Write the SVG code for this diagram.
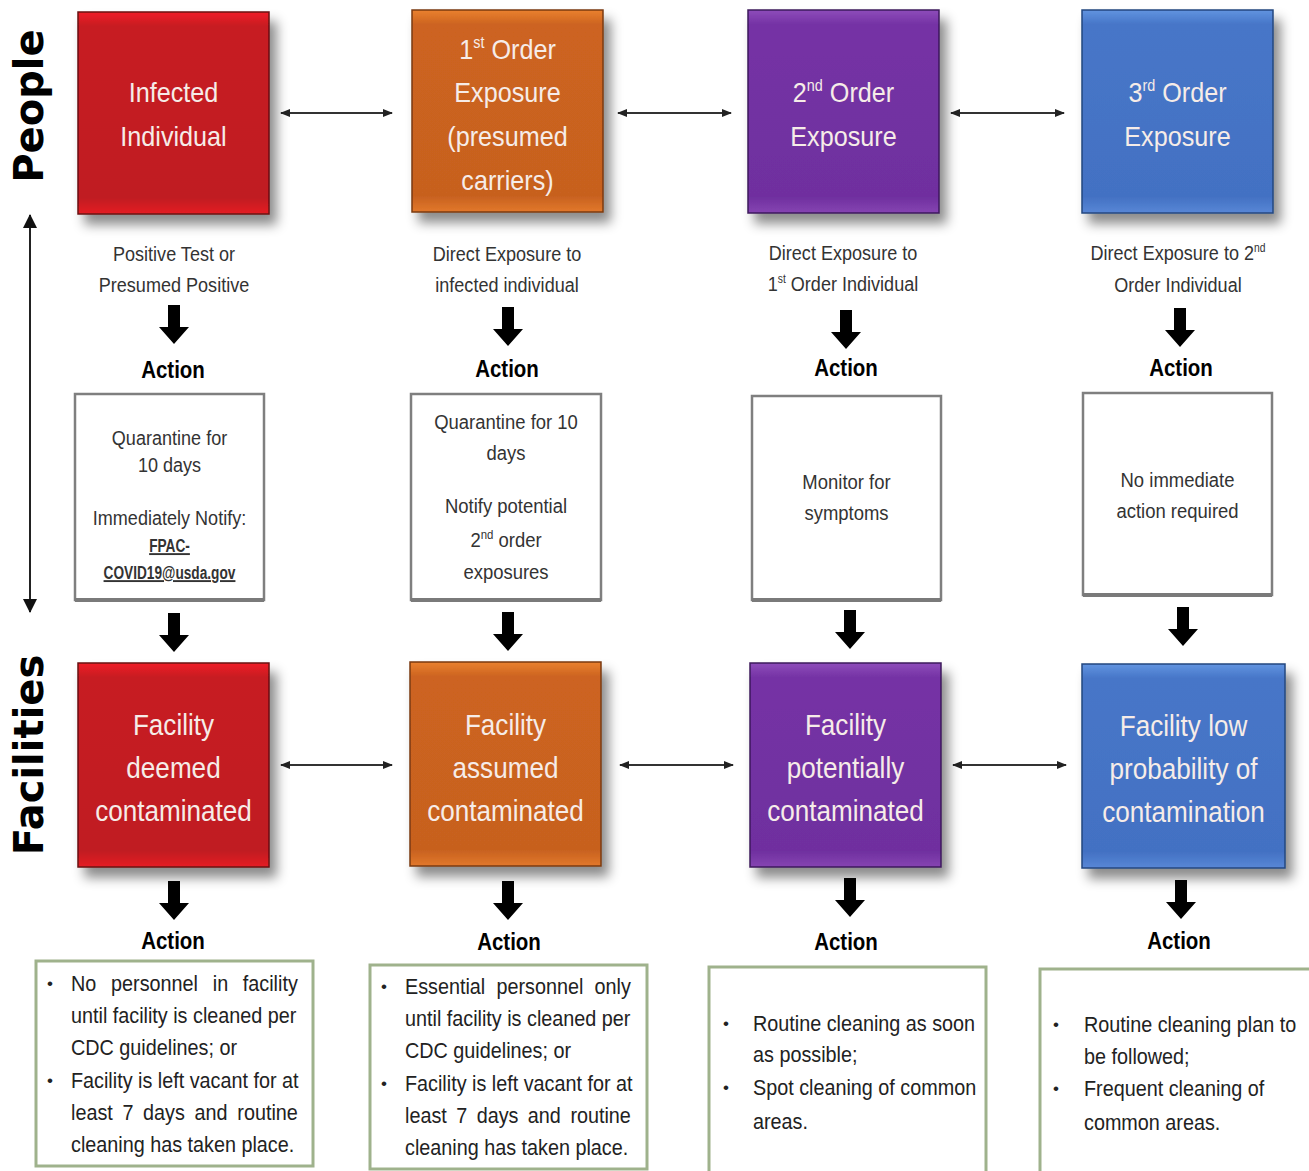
<svg xmlns="http://www.w3.org/2000/svg" width="1309" height="1171" viewBox="0 0 1309 1171">
<style>
text{font-family:"Liberation Sans",Arial,sans-serif}
.ct{font-size:28px;fill:#f6ece8;text-anchor:middle}
.cb{font-size:30px;fill:#f6ece8;text-anchor:middle}
.lbl{font-size:21px;fill:#333;text-anchor:middle}
.act{font-size:23px;font-weight:bold;fill:#000;text-anchor:middle}
.abx{font-size:21px;fill:#333;text-anchor:middle}
.em{font-size:19px;font-weight:bold;fill:#333;text-anchor:middle;text-decoration:underline}
.bul{font-size:22px;fill:#222}
.end{text-anchor:end}
.dot{font-size:17px;fill:#222;text-anchor:middle}
.side{font-family:"DejaVu Sans",sans-serif;font-weight:bold;font-size:40px;fill:#000;text-anchor:middle}
.abox{fill:#fff;stroke:#7f7f7f;stroke-width:2.5}
.abot{stroke:#7a7a7a;stroke-width:4}
.gbox{fill:#fff;stroke:#9fb28c;stroke-width:3}
.conn{stroke:#333;stroke-width:2;fill:none;marker-start:url(#ah);marker-end:url(#ah)}
.vconn{stroke:#222;stroke-width:2;fill:none;marker-start:url(#ahb);marker-end:url(#ahb)}
.darr{fill:#000}
</style>
<defs>
<filter id="sh" x="-20%" y="-20%" width="150%" height="150%">
<feDropShadow dx="7" dy="10" stdDeviation="6" flood-color="#000" flood-opacity="0.45"/>
</filter>
<linearGradient id="gRed" x1="0" y1="0" x2="0" y2="1">
<stop offset="0" stop-color="#f01e26"/><stop offset="0.07" stop-color="#c71b23"/><stop offset="0.92" stop-color="#c01a21"/><stop offset="1" stop-color="#e51d25"/>
</linearGradient>
<linearGradient id="gOrange" x1="0" y1="0" x2="0" y2="1">
<stop offset="0" stop-color="#ea812f"/><stop offset="0.07" stop-color="#cd6420"/><stop offset="0.92" stop-color="#c7611f"/><stop offset="1" stop-color="#e2782b"/>
</linearGradient>
<linearGradient id="gPurple" x1="0" y1="0" x2="0" y2="1">
<stop offset="0" stop-color="#8e4cba"/><stop offset="0.07" stop-color="#7533a5"/><stop offset="0.92" stop-color="#6f2f9f"/><stop offset="1" stop-color="#8645b2"/>
</linearGradient>
<linearGradient id="gBlue" x1="0" y1="0" x2="0" y2="1">
<stop offset="0" stop-color="#6194e0"/><stop offset="0.07" stop-color="#4776c8"/><stop offset="0.92" stop-color="#4371c3"/><stop offset="1" stop-color="#5887d6"/>
</linearGradient>
<marker id="ah" viewBox="0 0 10 8" refX="9" refY="4" markerWidth="10" markerHeight="8" markerUnits="userSpaceOnUse" orient="auto-start-reverse">
<path d="M0,0 L10,4 L0,8 Z" fill="#222"/>
</marker>
<marker id="ahb" viewBox="0 0 14 14" refX="13" refY="7" markerWidth="15" markerHeight="14" markerUnits="userSpaceOnUse" orient="auto-start-reverse">
<path d="M0,0 L14,7 L0,14 Z" fill="#111"/>
</marker>
<path id="darr" d="M-6,0 H6 V22 H15 L0,39 L-15,22 H-6 Z"/>
</defs>
<rect width="1309" height="1171" fill="#fff"/>

<!-- side labels -->
<g id="side-people"><text class="side" transform="translate(43 106) rotate(-90)">People</text></g>
<g id="side-facilities"><text class="side" transform="translate(43 755) rotate(-90)">Facilities</text></g>

<!-- connectors -->
<g id="connectors">
<line class="vconn" x1="30" y1="215" x2="30" y2="612"/>
<line class="conn" x1="281" y1="113" x2="392" y2="113"/>
<line class="conn" x1="618" y1="113" x2="731" y2="113"/>
<line class="conn" x1="951" y1="113" x2="1064" y2="113"/>
<line class="conn" x1="281" y1="765" x2="392" y2="765"/>
<line class="conn" x1="620" y1="765" x2="733" y2="765"/>
<line class="conn" x1="953" y1="765" x2="1066" y2="765"/>
<g class="darr">
<use href="#darr" x="174" y="305"/>
<use href="#darr" x="508" y="307"/>
<use href="#darr" x="846" y="310"/>
<use href="#darr" x="1180" y="308"/>
<use href="#darr" x="174" y="613"/>
<use href="#darr" x="508" y="612"/>
<use href="#darr" x="850" y="610"/>
<use href="#darr" x="1183" y="607"/>
<use href="#darr" x="174" y="881"/>
<use href="#darr" x="508" y="881"/>
<use href="#darr" x="850" y="878"/>
<use href="#darr" x="1181" y="880"/>
</g>
</g>

<!-- top row -->
<g id="infected-individual">
<rect x="78" y="12" width="191" height="202" fill="url(#gRed)" stroke="#6a0f13" stroke-width="1.5" filter="url(#sh)"/>
<text class="ct" transform="translate(173.5 0) scale(.9 1)"><tspan x="0" y="102">Infected</tspan><tspan x="0" y="146">Individual</tspan></text>
</g>
<g id="first-order-exposure">
<rect x="412" y="10" width="191" height="202" fill="url(#gOrange)" stroke="#7a3a10" stroke-width="1.5" filter="url(#sh)"/>
<text class="ct" transform="translate(507.5 0) scale(.9 1)"><tspan x="0" y="59">1<tspan font-size="16" dy="-11">st</tspan><tspan dy="11"> Order</tspan></tspan><tspan x="0" y="102">Exposure</tspan><tspan x="0" y="146">(presumed</tspan><tspan x="0" y="190">carriers)</tspan></text>
</g>
<g id="second-order-exposure">
<rect x="748" y="10" width="191" height="203" fill="url(#gPurple)" stroke="#3d1a5c" stroke-width="1.5" filter="url(#sh)"/>
<text class="ct" transform="translate(843.5 0) scale(.9 1)"><tspan x="0" y="102">2<tspan font-size="16" dy="-11">nd</tspan><tspan dy="11"> Order</tspan></tspan><tspan x="0" y="146">Exposure</tspan></text>
</g>
<g id="third-order-exposure">
<rect x="1082" y="10" width="191" height="203" fill="url(#gBlue)" stroke="#24477f" stroke-width="1.5" filter="url(#sh)"/>
<text class="ct" transform="translate(1177.5 0) scale(.9 1)"><tspan x="0" y="102">3<tspan font-size="16" dy="-11">rd</tspan><tspan dy="11"> Order</tspan></tspan><tspan x="0" y="146">Exposure</tspan></text>
</g>

<!-- labels under top row -->
<g id="label-1">
<text class="lbl" transform="translate(174 0) scale(.86 1)"><tspan x="0" y="261">Positive Test or</tspan><tspan x="0" y="292">Presumed Positive</tspan></text>
<text class="act" transform="translate(173 0) scale(.89 1)"><tspan x="0" y="378">Action</tspan></text>
</g>
<g id="label-2">
<text class="lbl" transform="translate(507 0) scale(.86 1)"><tspan x="0" y="261">Direct Exposure to</tspan><tspan x="0" y="292">infected individual</tspan></text>
<text class="act" transform="translate(507 0) scale(.89 1)"><tspan x="0" y="377">Action</tspan></text>
</g>
<g id="label-3">
<text class="lbl" transform="translate(843 0) scale(.86 1)"><tspan x="0" y="260">Direct Exposure to</tspan><tspan x="0" y="291">1<tspan font-size="12" dy="-8">st</tspan><tspan dy="8"> Order Individual</tspan></tspan></text>
<text class="act" transform="translate(846 0) scale(.89 1)"><tspan x="0" y="376">Action</tspan></text>
</g>
<g id="label-4">
<text class="lbl" transform="translate(1178 0) scale(.86 1)"><tspan x="0" y="260">Direct Exposure to 2<tspan font-size="12" dy="-8">nd</tspan></tspan><tspan x="0" y="292">Order Individual</tspan></text>
<text class="act" transform="translate(1181 0) scale(.89 1)"><tspan x="0" y="376">Action</tspan></text>
</g>

<!-- people action boxes -->
<g id="action-quarantine-infected">
<rect class="abox" x="75" y="394" width="189" height="206"/>
<line class="abot" x1="75" y1="600" x2="264" y2="600"/>
<text class="abx" transform="translate(169.5 0) scale(.86 1)"><tspan x="0" y="445">Quarantine for</tspan><tspan x="0" y="472">10 days</tspan><tspan x="0" y="525">Immediately Notify:</tspan></text>
<text class="em" transform="translate(169.5 0) scale(.72 1)"><tspan x="0" y="552">FPAC-</tspan><tspan x="0" y="579">COVID19@usda.gov</tspan></text>
</g>
<g id="action-quarantine-first">
<rect class="abox" x="411" y="394" width="190" height="206"/>
<line class="abot" x1="411" y1="600" x2="601" y2="600"/>
<text class="abx" transform="translate(506 0) scale(.88 1)"><tspan x="0" y="429">Quarantine for 10</tspan><tspan x="0" y="460">days</tspan><tspan x="0" y="513">Notify potential</tspan><tspan x="0" y="547">2<tspan font-size="13" dy="-8">nd</tspan><tspan dy="8"> order</tspan></tspan><tspan x="0" y="579">exposures</tspan></text>
</g>
<g id="action-monitor">
<rect class="abox" x="752" y="396" width="189" height="204"/>
<line class="abot" x1="752" y1="600" x2="941" y2="600"/>
<text class="abx" transform="translate(846.5 0) scale(.88 1)"><tspan x="0" y="489">Monitor for</tspan><tspan x="0" y="520">symptoms</tspan></text>
</g>
<g id="action-none">
<rect class="abox" x="1083" y="393" width="189" height="202"/>
<line class="abot" x1="1083" y1="595" x2="1272" y2="595"/>
<text class="abx" transform="translate(1177.5 0) scale(.88 1)"><tspan x="0" y="487">No immediate</tspan><tspan x="0" y="518">action required</tspan></text>
</g>

<!-- facility row -->
<g id="facility-deemed">
<rect x="78" y="663" width="191" height="204" fill="url(#gRed)" stroke="#6a0f13" stroke-width="1.5" filter="url(#sh)"/>
<text class="cb" transform="translate(173.5 0) scale(.87 1)"><tspan x="0" y="735">Facility</tspan><tspan x="0" y="778">deemed</tspan><tspan x="0" y="821">contaminated</tspan></text>
</g>
<g id="facility-assumed">
<rect x="410" y="662" width="191" height="204" fill="url(#gOrange)" stroke="#7a3a10" stroke-width="1.5" filter="url(#sh)"/>
<text class="cb" transform="translate(505.5 0) scale(.87 1)"><tspan x="0" y="735">Facility</tspan><tspan x="0" y="778">assumed</tspan><tspan x="0" y="821">contaminated</tspan></text>
</g>
<g id="facility-potentially">
<rect x="750" y="663" width="191" height="204" fill="url(#gPurple)" stroke="#3d1a5c" stroke-width="1.5" filter="url(#sh)"/>
<text class="cb" transform="translate(845.5 0) scale(.87 1)"><tspan x="0" y="735">Facility</tspan><tspan x="0" y="778">potentially</tspan><tspan x="0" y="821">contaminated</tspan></text>
</g>
<g id="facility-low">
<rect x="1082" y="664" width="203" height="204" fill="url(#gBlue)" stroke="#24477f" stroke-width="1.5" filter="url(#sh)"/>
<text class="cb" transform="translate(1183.5 0) scale(.87 1)"><tspan x="0" y="736">Facility low</tspan><tspan x="0" y="779">probability of</tspan><tspan x="0" y="822">contamination</tspan></text>
</g>

<!-- bottom Action labels -->
<g id="bottom-actions">
<text class="act" transform="translate(173 0) scale(.89 1)"><tspan x="0" y="949">Action</tspan></text>
<text class="act" transform="translate(509 0) scale(.89 1)"><tspan x="0" y="950">Action</tspan></text>
<text class="act" transform="translate(846 0) scale(.89 1)"><tspan x="0" y="950">Action</tspan></text>
<text class="act" transform="translate(1179 0) scale(.89 1)"><tspan x="0" y="949">Action</tspan></text>
</g>

<!-- facility action boxes -->
<g id="action-facility-deemed">
<rect class="gbox" x="36" y="961" width="277" height="205"/>
<text class="dot"><tspan x="50" y="989">•</tspan><tspan x="50" y="1086">•</tspan></text>
<text class="bul" transform="translate(71 0) scale(.9 1)"><tspan x="0" y="991">No</tspan><tspan x="44.5" y="991">personnel</tspan><tspan x="157.5" y="991">in</tspan><tspan x="0" y="1023">until facility is cleaned per</tspan><tspan x="0" y="1055">CDC guidelines; or</tspan><tspan x="0" y="1088">Facility is left vacant for at</tspan><tspan x="0" y="1120">least</tspan><tspan x="57.2" y="1120">7</tspan><tspan x="80.1" y="1120">days</tspan><tspan x="137.3" y="1120">and</tspan><tspan x="0" y="1152">cleaning has taken place.</tspan></text>
<text class="bul end" transform="translate(71 0) scale(.9 1)"><tspan x="252" y="991">facility</tspan><tspan x="252" y="1120">routine</tspan></text>
</g>
<g id="action-facility-assumed">
<rect class="gbox" x="370" y="965" width="277" height="204"/>
<text class="dot"><tspan x="384" y="992">•</tspan><tspan x="384" y="1089">•</tspan></text>
<text class="bul" transform="translate(405 0) scale(.9 1)"><tspan x="0" y="994">Essential</tspan><tspan x="101.7" y="994">personnel</tspan><tspan x="0" y="1026">until facility is cleaned per</tspan><tspan x="0" y="1058">CDC guidelines; or</tspan><tspan x="0" y="1091">Facility is left vacant for at</tspan><tspan x="0" y="1123">least</tspan><tspan x="56.9" y="1123">7</tspan><tspan x="79.6" y="1123">days</tspan><tspan x="136.5" y="1123">and</tspan><tspan x="0" y="1155">cleaning has taken place.</tspan></text>
<text class="bul end" transform="translate(405 0) scale(.9 1)"><tspan x="251" y="994">only</tspan><tspan x="251" y="1123">routine</tspan></text>
</g>
<g id="action-facility-potentially">
<rect class="gbox" x="709" y="967" width="277" height="230"/>
<text class="dot"><tspan x="726" y="1029">•</tspan><tspan x="726" y="1093">•</tspan></text>
<text class="bul" transform="translate(753 0) scale(.9 1)"><tspan x="0" y="1031">Routine cleaning as soon</tspan><tspan x="0" y="1062">as possible;</tspan><tspan x="0" y="1095">Spot cleaning of common</tspan><tspan x="0" y="1129">areas.</tspan></text>
</g>
<g id="action-facility-low">
<rect class="gbox" x="1040" y="969" width="300" height="230"/>
<text class="dot"><tspan x="1056" y="1030">•</tspan><tspan x="1056" y="1094">•</tspan></text>
<text class="bul" transform="translate(1084 0) scale(.9 1)"><tspan x="0" y="1032">Routine cleaning plan to</tspan><tspan x="0" y="1064">be followed;</tspan><tspan x="0" y="1096">Frequent cleaning of</tspan><tspan x="0" y="1130">common areas.</tspan></text>
</g>
</svg>
